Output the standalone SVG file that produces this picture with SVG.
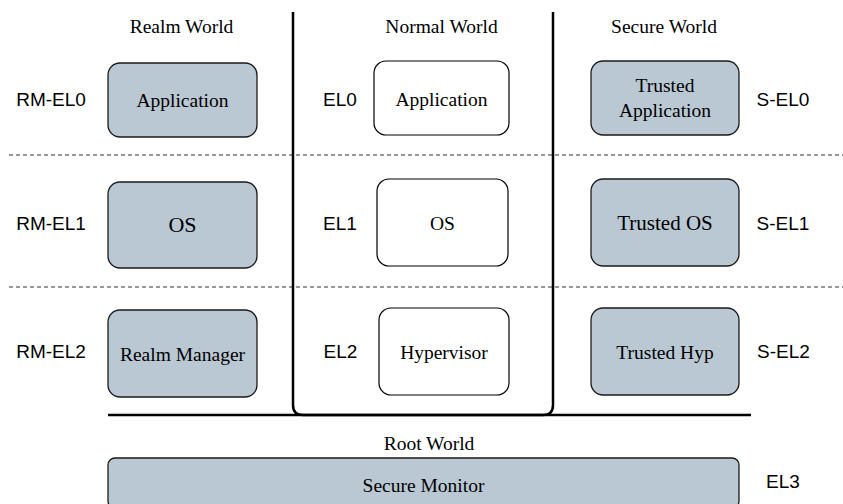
<svg xmlns="http://www.w3.org/2000/svg" width="843" height="504" viewBox="0 0 843 504">
<style>
.g{fill:#bac8d3;stroke:#1a1a1a;stroke-width:1.3}
.w{fill:#ffffff;stroke:#000;stroke-width:1.2}
.t{font-family:"Liberation Serif","Times New Roman",serif;font-size:19.5px;fill:#000;text-anchor:middle}
.s{font-family:"Liberation Sans",Arial,sans-serif;font-size:19px;fill:#000;text-anchor:middle}
.d{stroke:#333;stroke-width:1.2;stroke-dasharray:4 3;fill:none}
.k{stroke:#000;stroke-width:2.5;fill:none}
</style>
<g id="connectors">
<line class="d" x1="9" y1="155" x2="843" y2="155"/>
<line class="d" x1="9" y1="287" x2="843" y2="287"/>
<path class="k" d="M293,12 V405 Q293,415 303,415 H543 Q553,415 553,405 V12"/>
<line class="k" x1="108" y1="415" x2="751" y2="415"/>
</g>
<g id="titles">
<text class="t" x="181.5" y="33">Realm World</text>
<text class="t" x="441.5" y="33">Normal World</text>
<text class="t" x="664" y="33">Secure World</text>
<text class="t" x="429" y="450">Root World</text>
</g>
<g id="levels">
<text class="s" x="51" y="106">RM-EL0</text>
<text class="s" x="51" y="230">RM-EL1</text>
<text class="s" x="51" y="358">RM-EL2</text>
<text class="s" x="340" y="106">EL0</text>
<text class="s" x="340" y="230">EL1</text>
<text class="s" x="340.5" y="358">EL2</text>
<text class="s" x="783" y="106">S-EL0</text>
<text class="s" x="783" y="230">S-EL1</text>
<text class="s" x="783.5" y="358">S-EL2</text>
<text class="s" x="783" y="488">EL3</text>
</g>
<g id="realm-app"><rect class="g" x="108" y="63" width="149" height="74" rx="12"/><text class="t" x="182.5" y="106.5">Application</text></g>
<g id="normal-app"><rect class="w" x="374" y="61" width="135" height="74" rx="12"/><text class="t" x="441.5" y="106">Application</text></g>
<g id="trusted-app"><rect class="g" x="591" y="61" width="148" height="74" rx="12"/><text class="t" x="665" y="91.5">Trusted</text><text class="t" x="665" y="116.5">Application</text></g>
<g id="realm-os"><rect class="g" x="108" y="182" width="149" height="86" rx="12"/><text class="t" x="182.5" y="231.5" style="font-size:22px">OS</text></g>
<g id="normal-os"><rect class="w" x="377" y="179" width="131" height="87" rx="12"/><text class="t" x="442.5" y="230">OS</text></g>
<g id="trusted-os"><rect class="g" x="591" y="179" width="148" height="87" rx="12"/><text class="t" x="665" y="230" style="font-size:21px">Trusted OS</text></g>
<g id="realm-manager"><rect class="g" x="108" y="310" width="149" height="87" rx="12"/><text class="t" x="182.5" y="361">Realm Manager</text></g>
<g id="hypervisor"><rect class="w" x="379" y="308" width="130" height="87" rx="12"/><text class="t" x="444" y="358.5">Hypervisor</text></g>
<g id="trusted-hyp"><rect class="g" x="591" y="308" width="148" height="87" rx="12"/><text class="t" x="665" y="359">Trusted Hyp</text></g>
<g id="secure-monitor"><rect class="g" x="108" y="458" width="631" height="50" rx="7"/><text class="t" x="423.5" y="492">Secure Monitor</text></g>
</svg>
